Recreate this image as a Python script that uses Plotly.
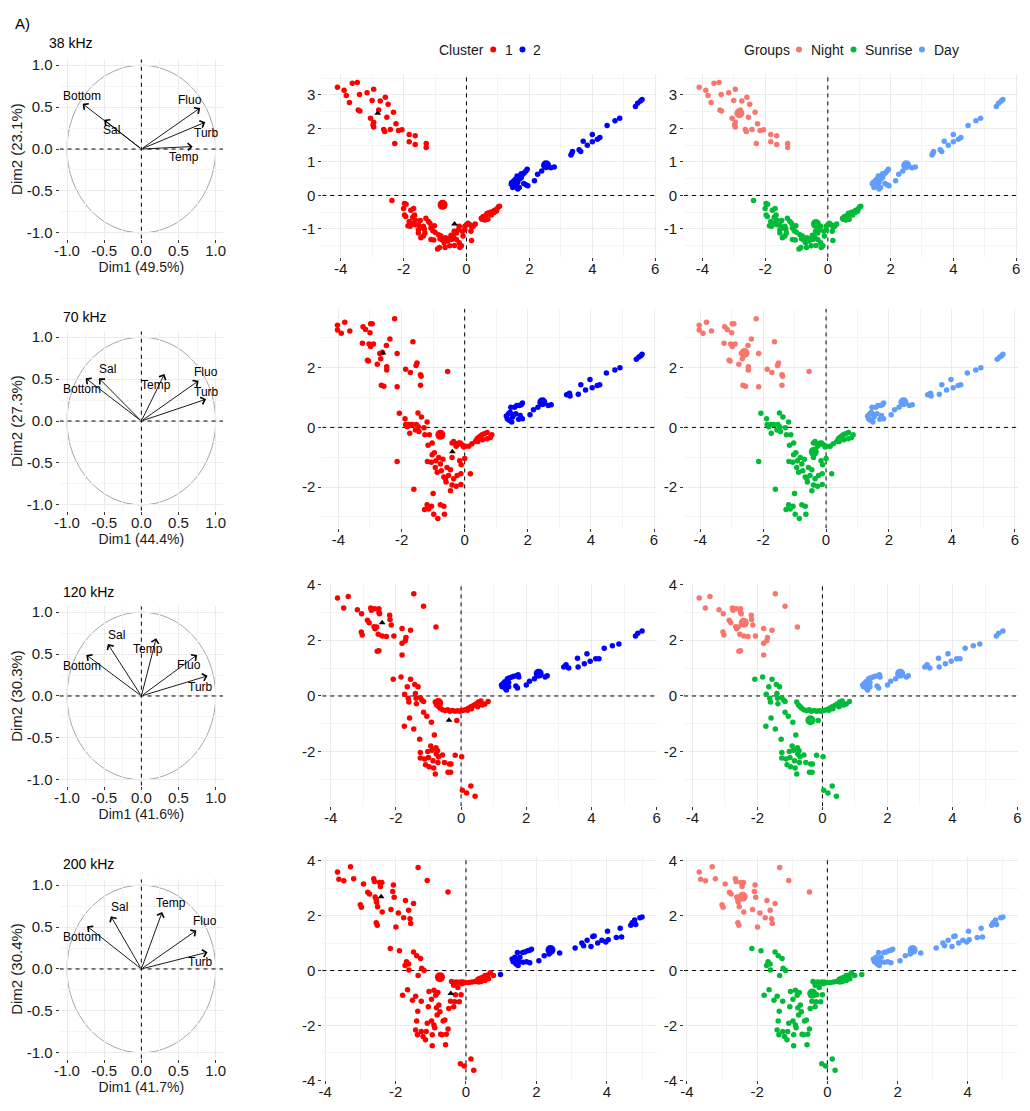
import math
import plotly.graph_objects as go

# Target frame is 1030x1111; the page body keeps its default 8px margin, so the
# figure is sized and positioned to land exactly on that frame.
FRAME_W, FRAME_H = 1030, 1111
BODY = 8
W, H = FRAME_W - BODY, FRAME_H - BODY
FONT = "Liberation Sans, Arial, sans-serif"

# ---------------- data ----------------
freqs = ["38 kHz", "70 kHz", "120 kHz", "200 kHz"]
dim1_pct = ["49.5%", "44.4%", "41.6%", "41.7%"]
dim2_pct = ["23.1%", "27.3%", "30.3%", "30.4%"]
variables = ["Bottom", "Sal", "Temp", "Fluo", "Turb"]
cluster_names = ["1", "2"]
group_names = ["Night", "Sunrise", "Day"]

# variable correlation coordinates (arrow tips) per frequency
var_x = [[-0.79, -0.50, 0.69, 0.79, 0.86],
         [-0.75, -0.57, 0.31, 0.77, 0.87],
         [-0.74, -0.45, 0.20, 0.75, 0.89],
         [-0.73, -0.41, 0.28, 0.74, 0.89]]
var_y = [[0.54, 0.35, 0.03, 0.49, 0.32],
         [0.51, 0.51, 0.56, 0.48, 0.26],
         [0.49, 0.62, 0.69, 0.49, 0.24],
         [0.51, 0.63, 0.68, 0.46, 0.20]]
# label placements (repelled) per frequency
lab_x = [[-0.80, -0.40, 0.57, 0.65, 0.87],
         [-0.80, -0.45, 0.20, 0.87, 0.88],
         [-0.80, -0.33, 0.09, 0.64, 0.79],
         [-0.80, -0.29, 0.40, 0.85, 0.79]]
lab_y = [[0.63, 0.23, -0.10, 0.58, 0.19],
         [0.38, 0.62, 0.43, 0.59, 0.35],
         [0.36, 0.73, 0.56, 0.37, 0.11],
         [0.38, 0.74, 0.79, 0.57, 0.08]]

# individuals: (Dim1, Dim2)
night_38 = [(-4.10, 3.23), (-3.89, 3.14), (-3.82, 2.98), (-3.72, 2.77), (-3.63, 3.35), (-3.47, 3.37),
            (-3.40, 3.01), (-3.44, 2.55), (-3.39, 2.52), (-3.16, 3.06), (-2.95, 3.17), (-3.00, 2.83),
            (-3.05, 2.30), (-2.95, 2.18), (-2.97, 2.10), (-2.95, 2.04), (-2.79, 2.55), (-2.74, 2.82),
            (-2.58, 2.93), (-2.49, 2.72), (-2.53, 2.33), (-2.63, 1.97), (-2.60, 1.91), (-2.42, 1.97),
            (-2.32, 2.48), (-2.24, 2.14), (-2.28, 1.55), (-2.16, 1.94), (-2.05, 1.96), (-1.82, 1.82),
            (-1.63, 1.78), (-1.82, 1.60), (-1.63, 1.52), (-1.28, 1.55), (-1.28, 1.43)]
sunrise_38 = [(-2.37, -0.15), (-1.97, -0.24), (-1.92, -0.26), (-2.00, -0.39), (-1.97, -0.58), (-1.93, -0.63),
              (-1.77, -0.44), (-1.68, -0.39), (-1.65, -0.58), (-1.74, -0.83), (-1.63, -0.87), (-1.53, -0.87),
              (-1.47, -0.75), (-1.47, -0.97), (-1.53, -1.12), (-1.45, -1.26), (-1.37, -1.21), (-1.34, -1.00),
              (-1.29, -0.68), (-1.21, -0.78), (-1.16, -0.83), (-1.13, -0.97), (-1.07, -1.05), (-1.02, -0.90),
              (-1.00, -1.10), (-1.04, -1.33), (-0.89, -1.17), (-0.84, -1.29), (-0.92, -1.60), (-0.81, -1.21),
              (-0.77, -1.33), (-0.71, -1.41), (-0.66, -1.26), (-0.60, -1.36), (-0.55, -1.29), (-0.49, -1.19),
              (-0.42, -1.21), (-0.38, -1.49), (-0.39, -1.07), (-0.26, -1.02), (-0.32, -1.12), (-0.23, -1.41),
              (-0.21, -1.55), (-0.16, -1.50), (-0.11, -1.21), (-0.05, -1.02), (-0.05, -0.92), (0.00, -0.87),
              (0.05, -0.83), (0.11, -0.87), (0.16, -0.92), (0.14, -1.07), (0.18, -0.94), (0.23, -0.90),
              (0.28, -0.85), (0.16, -1.34), (-0.13, -1.07), (-0.23, -0.92), (-0.32, -1.31), (-0.47, -1.31),
              (-0.53, -1.50), (-0.68, -1.55), (-0.86, -1.55), (-1.13, -1.31), (-1.32, -1.12), (-1.37, -0.92),
              (-1.63, -0.73), (-1.71, -0.65), (-1.82, -0.78), (-1.86, -0.90), (-1.79, -0.92), (-1.53, -1.02),
              (0.47, -0.68), (0.53, -0.63), (0.58, -0.68), (0.63, -0.58), (0.66, -0.53), (0.74, -0.51),
              (0.79, -0.49), (0.84, -0.49), (0.89, -0.44), (0.98, -0.39), (1.05, -0.32), (0.68, -0.71),
              (0.58, -0.73), (0.49, -0.71), (0.79, -0.58), (0.87, -0.51), (0.95, -0.47), (1.02, -0.34)]
day_38 = [(1.42, 0.34), (1.44, 0.39), (1.51, 0.44), (1.56, 0.49), (1.61, 0.58), (1.58, 0.29), (1.63, 0.19),
          (1.68, 0.24), (1.63, 0.39), (1.68, 0.49), (1.74, 0.53), (1.79, 0.63), (1.84, 0.68), (1.89, 0.73),
          (1.93, 0.78), (1.89, 0.32), (1.82, 0.36), (1.95, 0.29), (1.47, 0.24), (1.55, 0.36), (1.74, 0.65),
          (2.16, 0.44), (2.26, 0.63), (2.39, 0.73), (2.68, 0.83), (2.79, 0.85), (3.32, 1.21), (3.35, 1.26),
          (3.37, 1.31), (3.58, 1.36), (3.63, 1.31), (3.71, 1.62), (3.84, 1.50), (4.00, 1.60), (4.00, 1.82),
          (4.16, 1.68), (4.24, 1.73), (4.47, 2.09), (4.72, 2.23), (4.87, 2.30), (5.37, 2.65), (5.44, 2.75),
          (5.53, 2.82), (5.58, 2.86)]

night_70 = [(-4.03, 3.42), (-4.03, 3.26), (-3.91, 3.15), (-3.80, 3.52), (-3.64, 3.23), (-3.22, 3.37),
            (-3.14, 3.28), (-3.00, 3.17), (-2.98, 3.47), (-2.93, 3.47), (-3.24, 2.82), (-3.03, 2.79),
            (-2.98, 2.71), (-2.89, 2.79), (-3.08, 2.25), (-3.05, 2.22), (-2.77, 2.11), (-2.69, 2.47),
            (-2.66, 2.30), (-2.61, 2.52), (-2.64, 1.41), (-2.56, 1.38), (-2.48, 2.74), (-2.47, 2.03),
            (-2.47, 1.92), (-2.37, 2.96), (-2.22, 3.64), (-2.14, 2.47), (-2.14, 1.36), (-1.87, 1.95),
            (-1.72, 1.84), (-1.64, 2.87), (-1.54, 2.07), (-1.51, 2.16), (-1.40, 1.76), (-1.38, 1.71),
            (-1.40, 1.41), (-0.54, 1.87)]
sunrise_70 = [(-2.07, 0.47), (-2.14, -1.14), (-1.89, 0.29), (-1.87, 0.10), (-1.82, 0.02), (-1.75, 0.10),
              (-1.74, -0.20), (-1.66, 0.10), (-1.56, -0.09), (-1.53, 0.10), (-1.48, 0.48), (-1.47, 0.02),
              (-1.45, -0.14), (-1.37, 0.35), (-1.29, -0.01), (-1.26, -0.25), (-1.19, 0.18), (-1.12, -0.25),
              (-1.16, -0.60), (-1.61, -2.07), (-1.18, -1.14), (-1.06, -1.17), (-1.03, -0.52), (-1.03, -0.92),
              (-1.00, -2.21), (-0.96, -0.85), (-0.93, -1.34), (-0.91, -1.12), (-0.87, -1.50), (-0.82, -1.01),
              (-0.77, -1.23), (-0.74, -1.45), (-0.69, -1.07), (-0.66, -1.66), (-0.61, -1.72), (-0.59, -1.83),
              (-0.56, -1.34), (-0.51, -1.61), (-0.45, -1.42), (-0.40, -1.01), (-0.40, -1.93), (-0.45, -2.12),
              (-0.35, -1.72), (-0.27, -1.97), (-0.24, -1.61), (-0.16, -1.12), (-0.12, -1.55), (-0.12, -1.91),
              (-0.11, -1.25), (0.00, -1.04), (0.18, -1.55), (-1.27, -2.75), (-1.19, -2.59), (-1.14, -2.73),
              (-1.05, -2.64), (-0.98, -2.91), (-0.85, -3.05), (-0.77, -2.59), (-0.66, -2.64), (-0.64, -2.91),
              (-0.40, -0.52), (-0.35, -0.47), (-0.29, -0.55), (-0.24, -0.58), (-0.19, -0.52), (-0.14, -0.52),
              (-0.08, -0.58), (-0.03, -0.66), (0.02, -0.63), (0.13, -0.63), (0.23, -0.55), (0.34, -0.47),
              (0.39, -0.38), (0.44, -0.34), (0.49, -0.30), (0.55, -0.25), (0.62, -0.21), (0.71, -0.17),
              (0.86, -0.25), (0.81, -0.34), (0.71, -0.38), (0.57, -0.41), (0.42, -0.47), (-0.27, -0.63)]
day_70 = [(1.32, 0.38), (1.35, 0.29), (1.39, 0.46), (1.44, 0.51), (1.41, 0.24), (1.49, 0.18), (1.52, 0.35),
          (1.55, 0.42), (1.46, 0.67), (1.58, 0.67), (1.65, 0.73), (1.73, 0.73), (1.79, 0.76), (1.83, 0.82),
          (1.76, 0.40), (1.83, 0.29), (1.71, 0.27), (1.62, 0.46), (2.07, 0.42), (2.18, 0.59), (2.32, 0.67),
          (2.65, 0.73), (2.74, 0.76), (3.23, 1.09), (3.32, 1.14), (3.34, 1.05), (3.60, 1.11), (3.68, 1.43),
          (3.83, 1.25), (3.97, 1.60), (4.04, 1.33), (4.20, 1.40), (4.28, 1.43), (4.49, 1.82), (4.76, 1.92),
          (4.92, 2.00), (5.44, 2.28), (5.52, 2.36), (5.58, 2.40), (5.62, 2.45)]

night_120 = [(-3.79, 3.51), (-3.60, 3.15), (-3.46, 3.56), (-3.18, 3.09), (-3.05, 2.94), (-3.06, 2.29),
             (-3.03, 2.18), (-2.87, 2.71), (-2.82, 2.62), (-2.77, 3.15), (-2.75, 3.07), (-2.65, 3.12),
             (-2.67, 2.48), (-2.64, 2.41), (-2.59, 2.47), (-2.54, 2.21), (-2.57, 1.60), (-2.52, 1.62),
             (-2.52, 3.00), (-2.52, 3.12), (-2.50, 2.94), (-2.42, 2.15), (-2.29, 2.13), (-2.19, 2.89),
             (-2.18, 2.74), (-2.14, 2.54), (-2.06, 2.15), (-1.81, 2.42), (-1.81, 1.89), (-1.81, 1.47),
             (-1.71, 1.98), (-1.69, 2.09), (-1.55, 2.35), (-1.45, 3.66), (-1.15, 3.21), (-0.77, 2.47)]
sunrise_120 = [(-2.08, 0.60), (-1.84, 0.68), (-1.65, 0.33), (-1.73, 0.06), (-1.62, -0.08), (-1.60, -0.22),
               (-1.74, -1.08), (-1.58, -0.79), (-1.55, 0.60), (-1.42, 0.41), (-1.40, 0.09), (-1.38, -0.08),
               (-1.32, 0.33), (-1.37, -0.28), (-1.25, -0.06), (-1.20, -0.14), (-1.15, -0.20), (-1.45, -1.18),
               (-1.15, -0.58), (-1.05, -0.73), (-0.91, -0.94), (-0.82, -1.40), (-1.27, -1.55), (-1.25, -2.02),
               (-1.25, -2.22), (-1.12, -2.26), (-1.09, -2.46), (-1.02, -1.99), (-1.00, -2.20), (-0.98, -2.53),
               (-0.93, -1.79), (-0.89, -1.94), (-0.86, -2.32), (-0.84, -2.58), (-0.79, -2.79), (-0.76, -2.08),
               (-0.72, -1.96), (-0.69, -2.18), (-0.71, -2.38), (-0.77, -1.85), (-0.57, -2.11), (-0.51, -2.38),
               (-0.40, -2.73), (-0.36, -2.44), (-0.32, -2.73), (-0.31, -2.44), (-0.18, -2.12), (0.02, -2.18),
               (0.04, -3.38), (0.17, -3.47), (0.30, -3.22), (0.43, -3.59), (-0.13, -0.88),
               (-0.79, -0.22), (-0.74, -0.32), (-0.69, -0.38), (-0.64, -0.44), (-0.57, -0.49), (-0.49, -0.52),
               (-0.41, -0.49), (-0.34, -0.55), (-0.26, -0.52), (-0.18, -0.55), (-0.10, -0.53), (-0.03, -0.55),
               (0.04, -0.52), (0.12, -0.49), (0.22, -0.44), (0.30, -0.39), (0.38, -0.34), (0.45, -0.29),
               (0.53, -0.22), (0.61, -0.18), (0.73, -0.29), (0.83, -0.20), (0.51, -0.39), (0.32, -0.46),
               (0.20, -0.51), (0.65, -0.32)]
day_120 = [(1.24, 0.39), (1.26, 0.33), (1.29, 0.45), (1.34, 0.51), (1.36, 0.27), (1.39, 0.21), (1.42, 0.62),
           (1.46, 0.33), (1.49, 0.65), (1.56, 0.68), (1.62, 0.71), (1.70, 0.72), (1.75, 0.76), (1.77, 0.68),
           (1.73, 0.29), (1.68, 0.36), (1.34, 0.36), (1.46, 0.48), (2.00, 0.39), (2.10, 0.53), (2.25, 0.62),
           (2.58, 0.68), (2.64, 0.72), (3.15, 1.04), (3.22, 1.12), (3.30, 1.00), (3.57, 1.35), (3.59, 1.04),
           (3.78, 1.15), (3.86, 1.51), (3.96, 1.24), (4.13, 1.33), (4.23, 1.33), (4.39, 1.71), (4.64, 1.80),
           (4.84, 1.86), (5.35, 2.15), (5.42, 2.25), (5.55, 2.33)]

night_200 = [(-3.65, 3.59), (-3.61, 3.33), (-3.47, 3.27), (-3.28, 3.78), (-3.19, 3.34), (-3.00, 2.40),
             (-2.97, 2.31), (-2.91, 3.15), (-2.79, 2.85), (-2.74, 2.79), (-2.62, 3.34), (-2.60, 3.24),
             (-2.58, 2.68), (-2.55, 2.58), (-2.54, 2.49), (-2.51, 2.32), (-2.55, 1.74), (-2.52, 1.65),
             (-2.46, 3.21), (-2.43, 3.06), (-2.38, 2.13), (-2.39, 3.21), (-2.13, 2.22), (-2.08, 2.88),
             (-2.06, 3.12), (-2.04, 2.67), (-1.99, 1.59), (-1.92, 2.10), (-1.77, 1.92), (-1.72, 2.55),
             (-1.63, 2.20), (-1.59, 1.89), (-1.57, 1.71), (-1.49, 2.44), (-1.36, 3.75), (-1.10, 3.28),
             (-0.51, 2.86)]
sunrise_200 = [(-2.15, 0.80), (-1.89, 0.72), (-1.80, -0.90), (-1.73, 0.18), (-1.69, 0.32), (-1.66, -0.70),
               (-1.63, 0.24), (-1.62, 0.02), (-1.52, -1.08), (-1.49, 0.68), (-1.43, -0.94), (-1.40, 0.54),
               (-1.37, -1.48), (-1.36, -0.18), (-1.40, -1.84), (-1.29, 0.44), (-1.26, 0.08), (-1.19, 0.00),
               (-1.27, -1.12), (-1.43, -2.17), (-1.38, -2.34), (-1.27, -2.22), (-1.22, -2.40), (-1.15, -2.52),
               (-1.13, -2.22), (-1.10, -1.92), (-1.07, -1.32), (-1.05, -0.76), (-0.98, -1.05), (-0.98, -1.84),
               (-0.96, -2.34), (-0.96, -2.74), (-0.91, -0.72), (-0.91, -1.98), (-0.89, -2.08), (-0.86, -0.90),
               (-0.84, -1.36), (-0.82, -1.62), (-0.80, -0.80), (-0.77, -1.26), (-0.74, -1.50), (-0.72, -2.32),
               (-0.68, -2.34), (-0.65, -1.84), (-0.60, -1.80), (-0.58, -2.70), (-0.56, -2.32), (-0.51, -2.13),
               (-0.49, -1.38), (-0.44, -1.12), (-0.35, -1.32), (-0.32, -1.14), (-0.30, -0.88), (-0.23, -0.62),
               (-0.19, -1.14), (-0.14, -0.88), (-0.16, -3.40), (-0.05, -3.48), (0.14, -3.22), (0.22, -3.63),
               (-0.41, -0.40), (-0.35, -0.44), (-0.28, -0.42), (-0.23, -0.44), (-0.16, -0.42), (-0.09, -0.42),
               (-0.02, -0.44), (0.08, -0.44), (0.17, -0.42), (0.26, -0.40), (0.34, -0.32), (0.40, -0.28),
               (0.47, -0.24), (0.54, -0.18), (0.62, -0.16), (0.69, -0.08), (0.78, -0.18), (0.43, -0.40),
               (0.54, -0.36), (0.64, -0.30), (0.36, -0.42), (-0.35, -0.54), (-0.11, -0.48)]
day_200 = [(1.31, 0.42), (1.34, 0.32), (1.39, 0.48), (1.42, 0.24), (1.46, 0.66), (1.46, 0.40), (1.50, 0.32),
           (1.53, 0.48), (1.61, 0.66), (1.67, 0.68), (1.75, 0.72), (1.81, 0.74), (1.86, 0.78), (1.72, 0.32),
           (1.81, 0.28), (1.48, 0.18), (1.62, 0.30), (2.07, 0.36), (2.22, 0.54), (2.36, 0.60), (2.38, 0.76),
           (2.42, 0.78), (2.66, 0.64), (3.10, 0.82), (3.29, 1.00), (3.34, 0.90), (3.44, 1.10), (3.55, 0.88),
           (3.60, 1.24), (3.64, 1.26), (3.74, 1.00), (3.86, 1.10), (3.97, 1.04), (4.04, 1.12), (4.02, 1.43),
           (4.27, 1.20), (4.38, 1.54), (4.42, 1.22), (4.68, 1.65), (4.72, 1.74), (4.79, 1.84), (4.82, 1.68),
           (4.94, 1.92), (5.00, 1.95)]
# individuals of the Sunrise group assigned to cluster 2
sunrise_c2_38 = []
sunrise_c2_70 = []
sunrise_c2_120 = []
sunrise_c2_200 = [(0.98, -0.14)]

night = [night_38, night_70, night_120, night_200]
sunrise = [sunrise_38, sunrise_70, sunrise_120, sunrise_200]
day = [day_38, day_70, day_120, day_200]
sunrise_c2 = [sunrise_c2_38, sunrise_c2_70, sunrise_c2_120, sunrise_c2_200]

# centroids
cluster1_mean = [(-0.76, -0.28), (-0.77, -0.25), (-0.70, -0.25), (-0.74, -0.24)]
cluster2_mean = [(2.53, 0.90), (2.46, 0.84), (2.38, 0.80), (2.40, 0.75)]
night_mean = [(-2.82, 2.45), (-2.59, 2.49), (-2.42, 2.62), (-2.41, 2.69)]
sunrise_mean = [(-0.38, -0.85), (-0.39, -0.82), (-0.37, -0.87), (-0.43, -0.84)]
day_mean = [(2.50, 0.90), (2.46, 0.84), (2.39, 0.80), (2.43, 0.75)]

# ---------------- styling ----------------
C1, C2 = "#FF0000", "#0000FF"
G_NIGHT, G_SUN, G_DAY = "#F8766D", "#00BA38", "#619CFF"
GRID, GRID_MINOR = "#EBEBEB", "#F4F4F4"
TXT = "#1a1a1a"
PT = 5.5
BIG = 10

# layout positions in frame pixels (from the top-left corner of the 1030x1111 frame)
col_x_px = [(55, 220), (320, 658), (685, 1022)]
circle_y_px = [(52, 234), (328, 510), (607, 789), (884, 1066)]
scatter_y_px = [(67, 253), (305, 528), (584, 810), (861, 1088)]
title_px = [(42, 35), (56, 313), (56, 592), (56, 868)]
LEG_Y = 42
cluster_leg = dict(title_x=436, dot_x=[492.5, 522], text_x=[502, 531])
group_leg = dict(title_x=743, dot_x=[801, 856, 925], text_x=[811, 866, 935])


def px_x(px):
    return (px - BODY) / W


def px_y(py):
    return 1 - (py - BODY) / H


def xdom(px):
    return [px_x(px[0]), px_x(px[1])]


def ydom(px):
    return [px_y(px[1]), px_y(px[0])]


def xs(pts):
    return [p[0] for p in pts]


def ys(pts):
    return [p[1] for p in pts]


def ax_ref(letter, i):
    return letter if i == 1 else f"{letter}{i}"


def ax_key(letter, i):
    return f"{letter}axis" if i == 1 else f"{letter}axis{i}"


def tick_list(lo, hi, step):
    k0 = math.ceil(lo / step - 1e-9)
    k1 = math.floor(hi / step + 1e-9)
    return [k * step for k in range(k0, k1 + 1)]


def fmt(v, dec):
    s = f"{v:.{dec}f}"
    if s.startswith("-") and float(s) == 0:
        s = s[1:]
    return s


fig = go.Figure()
layout = {}
shapes = []
annotations = []


def axis_common():
    return dict(showline=False, zeroline=False, showgrid=True, gridcolor=GRID, gridwidth=1,
                ticks="outside", ticklen=3, tickwidth=1, tickcolor="#333333",
                tickfont=dict(family=FONT, size=15, color=TXT), fixedrange=True)


def add_zero_lines(i, xr, yr):
    """Dashed reference lines through the origin, drawn as traces (above grid, below points)."""
    xa_, ya_ = ax_ref("x", i), ax_ref("y", i)
    fig.add_trace(go.Scatter(x=[0, 0], y=yr, mode="lines", xaxis=xa_, yaxis=ya_, hoverinfo="skip",
                             line=dict(color="black", width=1, dash="4px,4px")))
    fig.add_trace(go.Scatter(x=xr, y=[0, 0], mode="lines", xaxis=xa_, yaxis=ya_, hoverinfo="skip",
                             line=dict(color="black", width=1, dash="4px,4px")))


for r in range(4):
    # ---- column 1 : variable correlation circle ----
    i = r * 3 + 1
    xi, yi = ax_ref("x", i), ax_ref("y", i)
    cxr, cyr = [-1.1, 1.1], [-1.07, 1.07]
    xa = axis_common()
    tv = [-1.0, -0.5, 0.0, 0.5, 1.0]
    xa.update(domain=xdom(col_x_px[0]), range=cxr, anchor=yi, ticklabelstandoff=-5,
              tickmode="array", tickvals=tv, ticktext=[fmt(v, 1) for v in tv],
              minor=dict(tickmode="linear", tick0=0, dtick=0.25, showgrid=True, gridcolor=GRID_MINOR, gridwidth=1),
              title=dict(text=f"Dim1 ({dim1_pct[r]})", font=dict(family=FONT, size=14, color=TXT), standoff=0))
    ya = axis_common()
    ya.update(domain=ydom(circle_y_px[r]), range=cyr, anchor=xi,
              tickmode="array", tickvals=tv, ticktext=[fmt(v, 1) for v in tv],
              minor=dict(tickmode="linear", tick0=0, dtick=0.25, showgrid=True, gridcolor=GRID_MINOR, gridwidth=1),
              title=dict(text=f"Dim2 ({dim2_pct[r]})", font=dict(family=FONT, size=15, color=TXT), standoff=0))
    layout[ax_key("x", i)] = xa
    layout[ax_key("y", i)] = ya
    shapes.append(dict(type="circle", xref=xi, yref=yi, x0=-1, y0=-1, x1=1, y1=1,
                       line=dict(color="#A6A6A6", width=1), layer="below"))
    add_zero_lines(i, cxr, cyr)
    for k, name in enumerate(variables):
        annotations.append(dict(xref=xi, yref=yi, axref=xi, ayref=yi,
                                x=var_x[r][k], y=var_y[r][k], ax=0, ay=0, text="",
                                showarrow=True, arrowhead=4, arrowsize=1.6, arrowwidth=0.9,
                                arrowcolor="black", standoff=0, startstandoff=0))
        annotations.append(dict(xref=xi, yref=yi, x=lab_x[r][k], y=lab_y[r][k],
                                text=name, showarrow=False,
                                font=dict(family=FONT, size=12, color="black")))
    tx, ty = title_px[r]
    annotations.append(dict(xref="paper", yref="paper", x=px_x(tx), y=px_y(ty), xanchor="left",
                            yanchor="middle", text=freqs[r], showarrow=False,
                            font=dict(family=FONT, size=14, color="black")))

    # ---- columns 2 and 3 : individuals ----
    all_pts = (night[r] + sunrise[r] + day[r] + sunrise_c2[r] +
               [cluster1_mean[r], cluster2_mean[r], night_mean[r], sunrise_mean[r], day_mean[r]])
    xmin, xmax = min(xs(all_pts)), max(xs(all_pts))
    ymin, ymax = min(ys(all_pts)), max(ys(all_pts))
    xr = [xmin - 0.05 * (xmax - xmin), xmax + 0.05 * (xmax - xmin)]
    yr = [ymin - 0.05 * (ymax - ymin), ymax + 0.05 * (ymax - ymin)]
    ystep = 1 if r == 0 else 2
    xt = tick_list(xr[0], xr[1], 2)
    yt = tick_list(yr[0], yr[1], ystep)
    for c in (1, 2):
        j = r * 3 + 1 + c
        xa = axis_common()
        xa.update(domain=xdom(col_x_px[c]), range=xr, anchor=ax_ref("y", j), ticklabelstandoff=-5,
                  tickmode="array", tickvals=xt, ticktext=[fmt(v, 0) for v in xt],
                  minor=dict(tickmode="linear", tick0=0, dtick=1, showgrid=True, gridcolor=GRID_MINOR, gridwidth=1))
        ya = axis_common()
        ya.update(domain=ydom(scatter_y_px[r]), range=yr, anchor=ax_ref("x", j),
                  tickmode="array", tickvals=yt, ticktext=[fmt(v, 0) for v in yt],
                  minor=dict(tickmode="linear", tick0=0, dtick=ystep / 2, showgrid=True, gridcolor=GRID_MINOR, gridwidth=1))
        layout[ax_key("x", j)] = xa
        layout[ax_key("y", j)] = ya
        add_zero_lines(j, xr, yr)

    j2 = r * 3 + 2
    j3 = r * 3 + 3
    x2, y2 = ax_ref("x", j2), ax_ref("y", j2)
    x3, y3 = ax_ref("x", j3), ax_ref("y", j3)
    cl1 = night[r] + sunrise[r]
    cl2 = day[r] + sunrise_c2[r]
    fig.add_trace(go.Scatter(x=xs(cl1), y=ys(cl1), mode="markers", name=cluster_names[0],
                             marker=dict(color=C1, size=PT), xaxis=x2, yaxis=y2))
    fig.add_trace(go.Scatter(x=xs(cl2), y=ys(cl2), mode="markers", name=cluster_names[1],
                             marker=dict(color=C2, size=PT), xaxis=x2, yaxis=y2))
    fig.add_trace(go.Scatter(x=[cluster1_mean[r][0]], y=[cluster1_mean[r][1]], mode="markers",
                             marker=dict(color=C1, size=BIG), xaxis=x2, yaxis=y2))
    fig.add_trace(go.Scatter(x=[cluster2_mean[r][0]], y=[cluster2_mean[r][1]], mode="markers",
                             marker=dict(color=C2, size=BIG), xaxis=x2, yaxis=y2))
    fig.add_trace(go.Scatter(x=[night_mean[r][0], sunrise_mean[r][0]], y=[night_mean[r][1], sunrise_mean[r][1]],
                             mode="markers", marker=dict(color="black", size=6, symbol="triangle-up"),
                             xaxis=x2, yaxis=y2))

    groups = [(group_names[0], night[r], G_NIGHT, night_mean[r]),
              (group_names[1], sunrise[r] + sunrise_c2[r], G_SUN, sunrise_mean[r]),
              (group_names[2], day[r], G_DAY, day_mean[r])]
    for gname, pts, col, mean in groups:
        fig.add_trace(go.Scatter(x=xs(pts), y=ys(pts), mode="markers", name=gname,
                                 marker=dict(color=col, size=PT), xaxis=x3, yaxis=y3))
    for gname, pts, col, mean in groups:
        fig.add_trace(go.Scatter(x=[mean[0]], y=[mean[1]], mode="markers", name=gname + " mean",
                                 marker=dict(color=col, size=BIG), xaxis=x3, yaxis=y3))

annotations.append(dict(xref="paper", yref="paper", x=px_x(8), y=px_y(16), xanchor="left", yanchor="middle",
                        text="A)", showarrow=False, font=dict(family=FONT, size=15, color="black")))


# ---- legends (drawn as keys + real text) ----
def legend_block(title, spec, labels, colors):
    ly = px_y(LEG_Y)
    annotations.append(dict(xref="paper", yref="paper", x=px_x(spec["title_x"]), y=ly, xanchor="left",
                            yanchor="middle", text=title, showarrow=False,
                            font=dict(family=FONT, size=14, color=TXT)))
    for lab, col, dx, tx_ in zip(labels, colors, spec["dot_x"], spec["text_x"]):
        shapes.append(dict(type="circle", xref="paper", yref="paper", xsizemode="pixel", ysizemode="pixel",
                           xanchor=px_x(dx), yanchor=ly, x0=-3, x1=3, y0=-3, y1=3,
                           fillcolor=col, line=dict(width=0)))
        annotations.append(dict(xref="paper", yref="paper", x=px_x(tx_), y=ly, xanchor="left",
                                yanchor="middle", text=lab, showarrow=False,
                                font=dict(family=FONT, size=14, color=TXT)))


legend_block("Cluster", cluster_leg, cluster_names, [C1, C2])
legend_block("Groups", group_leg, group_names, [G_NIGHT, G_SUN, G_DAY])

fig.update_layout(
    width=W, height=H,
    margin=dict(l=0, r=0, t=0, b=0),
    paper_bgcolor="white", plot_bgcolor="white",
    font=dict(family=FONT, size=14, color=TXT),
    showlegend=False,
    shapes=shapes, annotations=annotations,
    **layout,
)

fig.write_html("out.html", config={"displayModeBar": False})
